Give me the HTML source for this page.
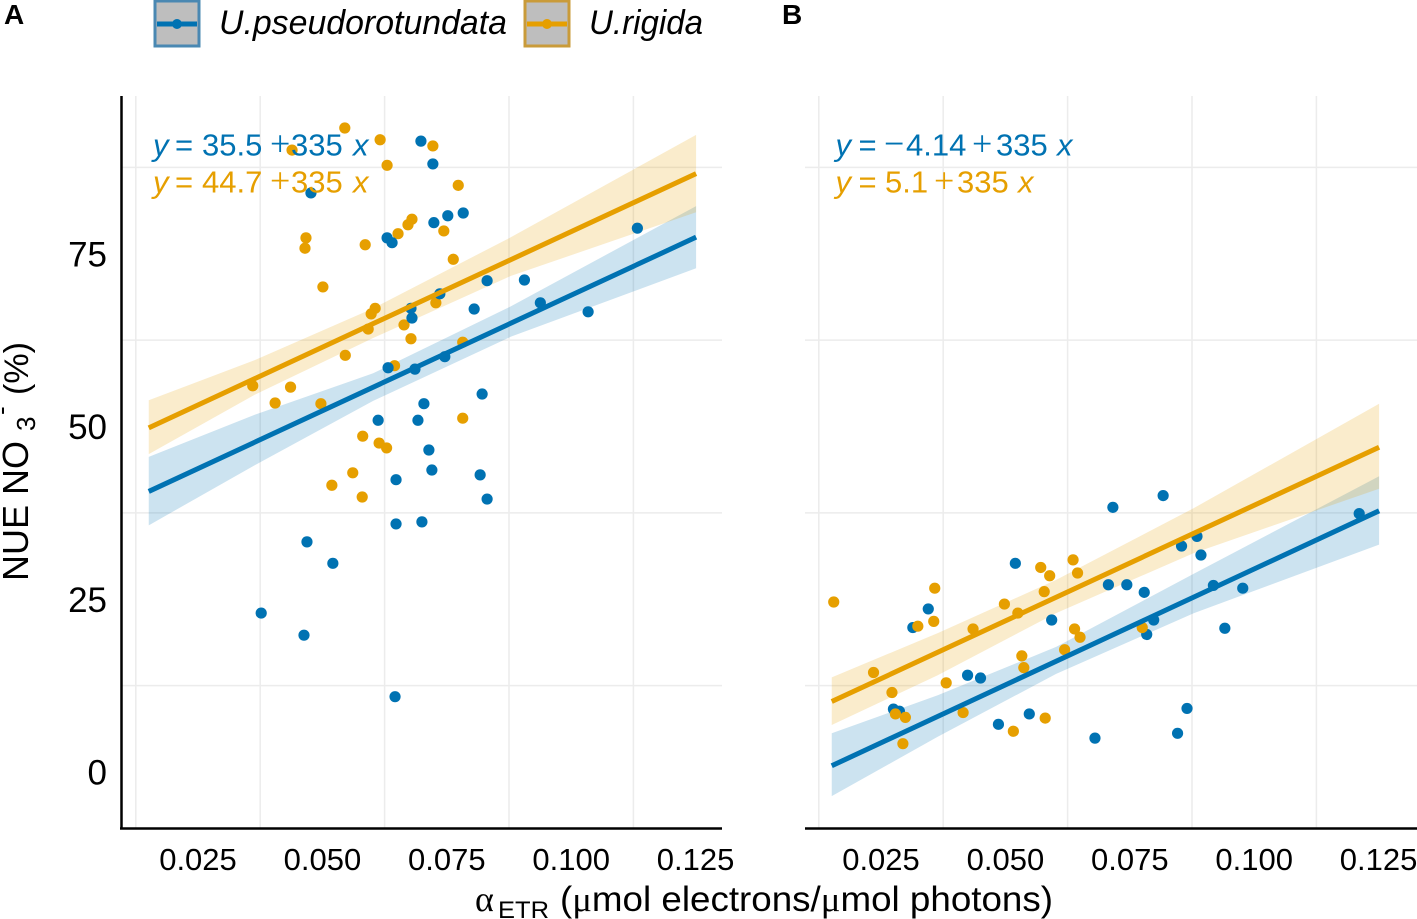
<!DOCTYPE html>
<html lang="en">
<head>
<meta charset="utf-8">
<title>NUE NO3 vs alpha ETR</title>
<style>
html,body{margin:0;padding:0;background:#fff;}
svg{display:block;}
text{font-family:"Liberation Sans",sans-serif;fill:#000;}
.tick{font-size:31px;}
.ytick{font-size:35px;}
.eq{font-size:31px;}
.eq-blue{fill:#0072B2;}
.eq-orange{fill:#E69F00;}
.serif{font-family:"Liberation Serif",serif;}
.eq .serif{font-size:36px;}
</style>
</head>
<body>
<svg id="chart" xmlns="http://www.w3.org/2000/svg" width="1417" height="919" viewBox="0 0 1417 919">
  <rect x="0" y="0" width="1417" height="919" fill="#ffffff"/>
  <g id="panel-a"></g>
  <g id="panel-b"></g>

  <g>
    <text class="eq eq-blue" y="155.5"><tspan x="153" font-style="italic">y</tspan><tspan x="175">=</tspan><tspan x="202">35.5</tspan><tspan x="270" class="serif">+</tspan><tspan x="291">335</tspan><tspan x="353" font-style="italic">x</tspan></text>
    <text class="eq eq-orange" y="192.5"><tspan x="153" font-style="italic">y</tspan><tspan x="175">=</tspan><tspan x="202">44.7</tspan><tspan x="270" class="serif">+</tspan><tspan x="291">335</tspan><tspan x="353" font-style="italic">x</tspan></text>
  </g>
  <g>
    <text class="eq eq-blue" y="155.5"><tspan x="835.5" font-style="italic">y</tspan><tspan x="858.5">=</tspan><tspan x="884" class="serif">−</tspan><tspan x="906">4.14</tspan><tspan x="972" class="serif">+</tspan><tspan x="996">335</tspan><tspan x="1057" font-style="italic">x</tspan></text>
    <text class="eq eq-orange" y="192.5"><tspan x="835.5" font-style="italic">y</tspan><tspan x="858.5">=</tspan><tspan x="885">5.1</tspan><tspan x="934" class="serif">+</tspan><tspan x="957">335</tspan><tspan x="1018" font-style="italic">x</tspan></text>
  </g>

  <text x="4" y="24" font-size="28" font-weight="bold">A</text>
  <text x="782" y="24" font-size="28" font-weight="bold">B</text>

  <g>
    <g>
      <rect x="155" y="1" width="44" height="45" fill="#bebebe" stroke="#4a88b2" stroke-width="3"/>
      <line x1="157" x2="197" y1="24" y2="24" stroke="#0072B2" stroke-width="5"/>
      <circle cx="177" cy="24" r="5" fill="#0072B2"/>
      <text x="219" y="34" font-size="34" font-style="italic" textLength="288" lengthAdjust="spacingAndGlyphs">U.pseudorotundata</text>
    </g>
    <g>
      <rect x="525" y="1" width="44" height="45" fill="#bebebe" stroke="#c99b3a" stroke-width="3"/>
      <line x1="527" x2="567" y1="24" y2="24" stroke="#E69F00" stroke-width="5"/>
      <circle cx="547" cy="24" r="5" fill="#E69F00"/>
      <text x="589" y="34" font-size="34" font-style="italic" textLength="114" lengthAdjust="spacingAndGlyphs">U.rigida</text>
    </g>
  </g>

  <g>
    <text transform="translate(28,581) rotate(-90)" font-size="36" textLength="140" lengthAdjust="spacingAndGlyphs">NUE NO</text>
    <text transform="translate(35,431) rotate(-90)" font-size="26">3</text>
    <text transform="translate(10,415) rotate(-90)" font-size="26">-</text>
    <text transform="translate(28,395) rotate(-90)" font-size="34" textLength="53" lengthAdjust="spacingAndGlyphs">(%)</text>
  </g>

  <g>
    <text class="serif" x="475" y="911" font-size="36">α</text>
    <text x="498" y="918" font-size="24" textLength="51" lengthAdjust="spacingAndGlyphs">ETR</text>
    <text x="560" y="911" font-size="35" textLength="493" lengthAdjust="spacingAndGlyphs">(<tspan class="serif">μ</tspan>mol electrons/<tspan class="serif">μ</tspan>mol photons)</text>
  </g>
</svg>

<script>
// ---- tick labels ----
const xTickValues = [0.025, 0.050, 0.075, 0.100, 0.125];
const xTickLabels = ["0.025", "0.050", "0.075", "0.100", "0.125"];
const yTickValues = [0, 25, 50, 75];
const yTickLabels = ["0", "25", "50", "75"];
const xMinorGrid = [0.0125, 0.0375, 0.0625, 0.0875, 0.1125];
const yMinorGrid = [12.5, 37.5, 62.5, 87.5];

// ---- fitted lines (value at each end of fitX) ----
const fitX = [0.0151, 0.1251];
const fitABlue = [40.6, 77.4];
const fitAOrange = [49.8, 86.6];
const fitBBlue = [0.9, 37.8];
const fitBOrange = [10.2, 47.0];

// ---- confidence ribbons ----
const ribbonX = [0.0151, 0.0364, 0.0602, 0.0879, 0.1251];
const ribbonABlueUpper = [45.6, 51.7, 57.7, 67.4, 81.9];
const ribbonABlueLower = [35.7, 44.4, 53.7, 63.0, 72.9];
const ribbonAOrangeUpper = [53.8, 59.6, 67.1, 77.4, 92.2];
const ribbonAOrangeLower = [46.0, 54.6, 62.8, 71.8, 81.0];
const ribbonBBlueUpper = [5.6, 11.1, 18.1, 28.7, 42.8];
const ribbonBBlueLower = [-3.5, 5.1, 14.2, 23.0, 32.9];
const ribbonBOrangeUpper = [13.7, 20.1, 27.8, 38.2, 53.3];
const ribbonBOrangeLower = [6.8, 14.0, 23.0, 31.7, 41.0];

// ---- points: panel A, U.pseudorotundata ----
const pointsABlueX = [.0377,.0463,.0469,.0521,.0477,.0646,.0648,.0648,.0612,.0632,.0630,.0640,.0678,.0680,.0686,.0692,.0704,.0698,.0722,.0724,.0752,.0783,.0736,.0746,.0714,.0720,.0700,.0805,.0831,.0906,.0938,.0817,.0831,.0821,.1034,.1133];
const pointsABlueY = [23.0,19.8,33.3,30.2,83.8,10.9,35.9,42.3,50.9,58.5,77.3,76.6,67.1,65.7,58.3,50.9,53.3,91.3,88.0,79.5,80.5,80.9,69.2,60.1,46.6,43.7,36.2,67.0,71.1,71.2,67.9,43.0,39.5,54.7,66.6,78.7];

// ---- points: panel A, U.rigida ----
const pointsAOrangeX = [.0545,.0616,.0439,.0722,.0630,.0773,.0467,.0465,.0586,.0680,.0672,.0652,.0744,.0763,.0501,.0606,.0598,.0592,.0728,.0664,.0678,.0546,.0782,.0645,.0360,.0436,.0405,.0497,.0782,.0581,.0614,.0629,.0561,.0519,.0580];
const pointsAOrangeY = [93.2,91.5,90.0,90.6,87.8,84.9,77.3,75.8,76.3,80.0,79.2,77.9,78.3,74.2,70.2,67.1,66.3,64.1,67.9,64.7,62.7,60.3,62.2,58.8,55.9,55.7,53.4,53.3,51.2,48.6,47.6,46.9,43.3,41.5,39.8];

// ---- points: panel B, U.pseudorotundata ----
const pointsBBlueX = [.0817,.0716,.1211,.0885,.0854,.0893,.0520,.0707,.0744,.0779,.0918,.0977,.0345,.0314,.0593,.0798,.0784,.0941,.0424,.0450,.0275,.0287,.0486,.0548,.0680,.0846,.0865];
const pointsBBlueY = [40.0,38.3,37.4,34.1,32.7,31.4,30.2,27.1,27.1,26.0,27.0,26.6,23.6,20.9,22.0,22.0,19.9,20.8,14.0,13.6,9.1,8.8,6.9,8.4,4.9,5.6,9.2];

// ---- points: panel B, U.rigida ----
const pointsBOrangeX = [.0155,.0358,.0636,.0571,.0589,.0645,.0578,.0498,.0525,.0324,.0356,.0435,.0639,.0650,.0775,.0619,.0533,.0537,.0235,.0381,.0272,.0415,.0279,.0299,.0580,.0516,.0294];
const pointsBOrangeY = [24.6,26.6,30.7,29.6,28.4,28.8,26.1,24.3,23.0,21.1,21.8,20.7,20.7,19.5,20.9,17.7,16.8,15.1,14.4,12.9,11.5,8.6,8.4,7.9,7.8,5.9,4.1];

const BLUE = "#0072B2";
const ORANGE = "#E69F00";
const NS = "http://www.w3.org/2000/svg";
const PLOT_TOP = 96;
const PLOT_BOTTOM = 829;

function yScale(v) { return 772 - 6.91 * v; }
function xScaleFor(x025) { return function (v) { return x025 + (v - 0.025) * 4976; }; }

function make(tag, parent) {
  const e = document.createElementNS(NS, tag);
  parent.appendChild(e);
  return e;
}

function drawGrid(g, xs, left, right) {
  xMinorGrid.forEach(function (v) {
    const l = make("line", g);
    
    
    l.setAttribute("x1", xs(v)); l.setAttribute("x2", xs(v));
    l.setAttribute("y1", PLOT_TOP); l.setAttribute("y2", PLOT_BOTTOM);
    l.setAttribute("stroke", "#ececec"); l.setAttribute("stroke-width", "1.5");
  });
  yMinorGrid.forEach(function (v) {
    const l = make("line", g);
    
    
    l.setAttribute("x1", left); l.setAttribute("x2", right);
    l.setAttribute("y1", yScale(v)); l.setAttribute("y2", yScale(v));
    l.setAttribute("stroke", "#ececec"); l.setAttribute("stroke-width", "1.5");
  });
}

function drawPoints(g, xs, px, py, color, name) {
  px.forEach(function (v, i) {
    const c = make("circle", g);
    
    
    c.setAttribute("cx", xs(v));
    c.setAttribute("cy", yScale(py[i]));
    c.setAttribute("r", "5.6");
    c.setAttribute("fill", color);
  });
}

function drawRibbon(g, xs, upper, lower, color, name) {
  const top = ribbonX.map(function (v, i) { return xs(v) + "," + yScale(upper[i]); });
  const bottom = ribbonX.map(function (v, i) { return xs(v) + "," + yScale(lower[i]); }).reverse();
  const p = make("polygon", g);
  
  
  p.setAttribute("points", top.concat(bottom).join(" "));
  p.setAttribute("fill", color);
  p.setAttribute("fill-opacity", "0.2");
}

function drawFit(g, xs, fit, color, name) {
  const l = make("line", g);
  
  
  l.setAttribute("x1", xs(fitX[0])); l.setAttribute("y1", yScale(fit[0]));
  l.setAttribute("x2", xs(fitX[1])); l.setAttribute("y2", yScale(fit[1]));
  l.setAttribute("stroke", color); l.setAttribute("stroke-width", "5");
}

function drawXTicks(g, xs) {
  xTickValues.forEach(function (v, i) {
    const t = make("text", g);
    
    
    t.setAttribute("class", "tick");
    t.setAttribute("x", xs(v));
    t.setAttribute("y", 870);
    t.setAttribute("text-anchor", "middle");
    t.textContent = xTickLabels[i];
  });
}

function drawYTicks(g) {
  yTickValues.forEach(function (v, i) {
    const t = make("text", g);
    
    
    t.setAttribute("class", "ytick");
    t.setAttribute("x", 107);
    t.setAttribute("y", yScale(v) + 12.5);
    t.setAttribute("text-anchor", "end");
    t.textContent = yTickLabels[i];
  });
}

function axisLine(g, x1, y1, x2, y2, name) {
  const l = make("line", g);
  
  
  l.setAttribute("x1", x1); l.setAttribute("y1", y1);
  l.setAttribute("x2", x2); l.setAttribute("y2", y2);
  l.setAttribute("stroke", "#000"); l.setAttribute("stroke-width", "2.5");
}

// Panel A
(function () {
  const g = document.getElementById("panel-a");
  const xs = xScaleFor(198);
  drawGrid(g, xs, 121, 722);
  drawRibbon(g, xs, ribbonABlueUpper, ribbonABlueLower, BLUE, "pseudorotundata-a");
  drawRibbon(g, xs, ribbonAOrangeUpper, ribbonAOrangeLower, ORANGE, "rigida-a");
  drawPoints(g, xs, pointsAOrangeX, pointsAOrangeY, ORANGE, "rigida-a");
  drawPoints(g, xs, pointsABlueX, pointsABlueY, BLUE, "pseudorotundata-a");
  drawFit(g, xs, fitABlue, BLUE, "pseudorotundata-a");
  drawFit(g, xs, fitAOrange, ORANGE, "rigida-a");
  axisLine(g, 121.5, PLOT_TOP, 121.5, PLOT_BOTTOM, "y-axis-line");
  axisLine(g, 120, 828.5, 722, 828.5, "x-axis-line-a");
  drawYTicks(g);
  drawXTicks(g, xs);
})();

// Panel B
(function () {
  const g = document.getElementById("panel-b");
  const xs = xScaleFor(881);
  drawGrid(g, xs, 805, 1417);
  drawRibbon(g, xs, ribbonBBlueUpper, ribbonBBlueLower, BLUE, "pseudorotundata-b");
  drawRibbon(g, xs, ribbonBOrangeUpper, ribbonBOrangeLower, ORANGE, "rigida-b");
  drawPoints(g, xs, pointsBBlueX, pointsBBlueY, BLUE, "pseudorotundata-b");
  drawPoints(g, xs, pointsBOrangeX, pointsBOrangeY, ORANGE, "rigida-b");
  drawFit(g, xs, fitBBlue, BLUE, "pseudorotundata-b");
  drawFit(g, xs, fitBOrange, ORANGE, "rigida-b");
  axisLine(g, 805, 828.5, 1417, 828.5, "x-axis-line-b");
  drawXTicks(g, xs);
})();
</script>
</body>
</html>
